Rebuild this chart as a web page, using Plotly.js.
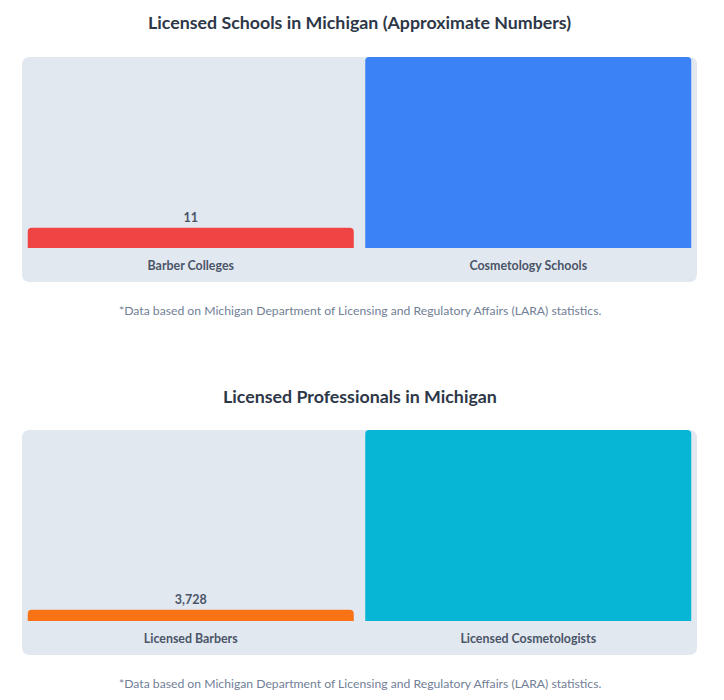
<!DOCTYPE html>
<html>
<head>
<meta charset="utf-8">
<script src="https://cdn.plot.ly/plotly-3.0.1.min.js"></script>
<style>
  html, body { margin: 0; padding: 0; background: #ffffff; }
  #chart { width: 724px; height: 700px; }
</style>
</head>
<body>
<div id="chart"></div>
<script>
// ---- data ----
const schoolCategories = ["Barber Colleges", "Cosmetology Schools"];
const schoolValues = [11, 104];
const schoolColors = ["#ef4444", "#3b82f6"];

const proCategories = ["Licensed Barbers", "Licensed Cosmetologists"];
const proValues = [3728, 63000];
const proColors = ["#f97316", "#06b6d4"];

const titleTop = "Licensed Schools in Michigan (Approximate Numbers)";
const titleBottom = "Licensed Professionals in Michigan";
const footnote = "*Data based on Michigan Department of Licensing and Regulatory Affairs (LARA) statistics.";

// ---- geometry (pixels) ----
const W = 724, H = 700;
const ML = 22, MR = 27;
const PW = W - ML - MR;
function py(px) { return 1 - px / H; }           // pixel y -> paper y
function pxX(px) { return (px - ML) / PW; }       // pixel x -> paper x

function roundedRect(x0, y0, x1, y1, r) {
  const X = v => pxX(v), Y = v => py(v);
  return "M " + X(x0 + r) + "," + Y(y0) +
    " L " + X(x1 - r) + "," + Y(y0) +
    " Q " + X(x1) + "," + Y(y0) + " " + X(x1) + "," + Y(y0 + r) +
    " L " + X(x1) + "," + Y(y1 - r) +
    " Q " + X(x1) + "," + Y(y1) + " " + X(x1 - r) + "," + Y(y1) +
    " L " + X(x0 + r) + "," + Y(y1) +
    " Q " + X(x0) + "," + Y(y1) + " " + X(x0) + "," + Y(y1 - r) +
    " L " + X(x0) + "," + Y(y0 + r) +
    " Q " + X(x0) + "," + Y(y0) + " " + X(x0 + r) + "," + Y(y0) + " Z";
}

const FONT = "Lato, 'Open Sans', sans-serif";
const fmt = v => v.toLocaleString("en-US");

const traces = [
  {
    type: "bar", x: schoolCategories, y: schoolValues,
    marker: { color: schoolColors },
    text: schoolValues.map(fmt), textposition: "outside", cliponaxis: true,
    textfont: { family: FONT, size: 12.5, color: "#4a5568", weight: 700 },
    xaxis: "x", yaxis: "y", hoverinfo: "none"
  },
  {
    type: "bar", x: proCategories, y: proValues,
    marker: { color: proColors },
    text: proValues.map(fmt), textposition: "outside", cliponaxis: true,
    textfont: { family: FONT, size: 12.5, color: "#4a5568", weight: 700 },
    xaxis: "x2", yaxis: "y2", hoverinfo: "none"
  }
];

const axisX = {
  showgrid: false, zeroline: false, showline: false, ticks: "",
  tickfont: { family: FONT, size: 12.4, color: "#4a5568", weight: 700 },
  fixedrange: true
};
const axisY = {
  showgrid: false, zeroline: false, showline: false, showticklabels: false,
  ticks: "", fixedrange: true
};

const layout = {
  width: W, height: H,
  margin: { l: ML, r: MR, t: 0, b: 0 },
  paper_bgcolor: "#ffffff",
  plot_bgcolor: "rgba(0,0,0,0)",
  showlegend: false,
  bargap: 0.034,
  barcornerradius: 4,
  font: { family: FONT },
  xaxis: Object.assign({}, axisX, { domain: [0, 1], anchor: "y", ticklabelstandoff: 9 }),
  yaxis: Object.assign({}, axisY, { domain: [py(248), py(57)], anchor: "x", range: [0, schoolValues[1]] }),
  xaxis2: Object.assign({}, axisX, { domain: [0, 1], anchor: "y2", ticklabelstandoff: 9 }),
  yaxis2: Object.assign({}, axisY, { domain: [py(621), py(430)], anchor: "x2", range: [0, proValues[1]] }),
  shapes: [
    { type: "path", xref: "paper", yref: "paper", layer: "below",
      path: roundedRect(22, 57, 697, 282, 8), fillcolor: "#e2e8f0", line: { width: 0 } },
    { type: "path", xref: "paper", yref: "paper", layer: "below",
      path: roundedRect(22, 430, 697, 655, 8), fillcolor: "#e2e8f0", line: { width: 0 } }
  ],
  annotations: [
    { xref: "paper", yref: "paper", x: 0.5, y: py(22), text: "<b>" + titleTop + "</b>",
      showarrow: false, xanchor: "center", yanchor: "middle",
      font: { family: FONT, size: 17.8, color: "#2d3748" } },
    { xref: "paper", yref: "paper", x: 0.5, y: py(310), text: footnote,
      showarrow: false, xanchor: "center", yanchor: "middle",
      font: { family: FONT, size: 12.2, color: "#718096" } },
    { xref: "paper", yref: "paper", x: 0.5, y: py(396), text: "<b>" + titleBottom + "</b>",
      showarrow: false, xanchor: "center", yanchor: "middle",
      font: { family: FONT, size: 17.8, color: "#2d3748" } },
    { xref: "paper", yref: "paper", x: 0.5, y: py(683), text: footnote,
      showarrow: false, xanchor: "center", yanchor: "middle",
      font: { family: FONT, size: 12.2, color: "#718096" } }
  ]
};

Plotly.newPlot("chart", traces, layout, { displayModeBar: false, staticPlot: true });
</script>
</body>
</html>
